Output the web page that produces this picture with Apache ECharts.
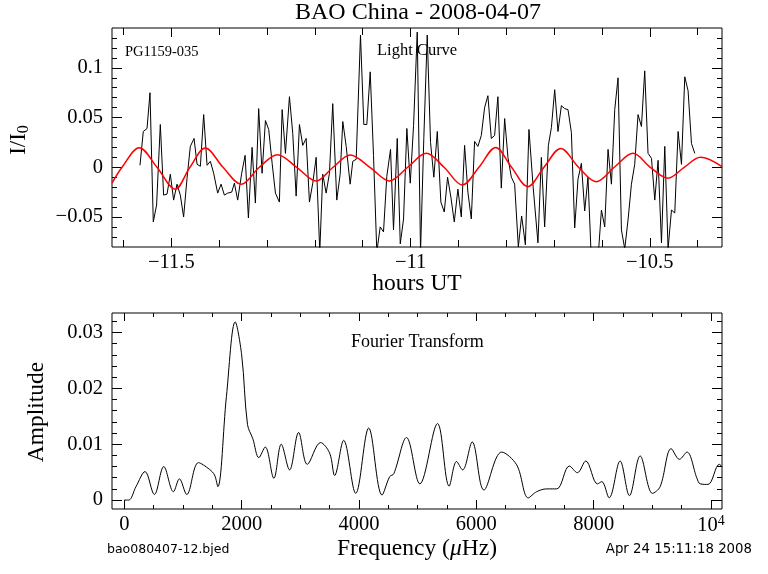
<!DOCTYPE html>
<html><head><meta charset="utf-8">
<script src="https://cdn.jsdelivr.net/npm/echarts@6/dist/echarts.min.js"></script>
<style>html,body{margin:0;padding:0;background:#fff}#c{width:768px;height:574px}</style>
</head><body><div id="c"></div>
<script>
// ---- Light curve (hours UT, I/I0) ----
const lcTime = [-11.5655,-11.5586,-11.5508,-11.5446,-11.5377,-11.5308,-11.5230,-11.5161,-11.5090,-11.5021,
-11.4952,-11.4881,-11.4812,-11.4743,-11.4672,-11.4603,-11.4525,-11.4462,-11.4393,-11.4324,
-11.4253,-11.4184,-11.4115,-11.4031,-11.3960,-11.3891,-11.3822,-11.3738,-11.3682,-11.3613,
-11.3529,-11.3458,-11.3389,-11.3312,-11.3243,-11.3174,-11.3103,-11.3033,-11.2964,-11.2893,
-11.2824,-11.2741,-11.2684,-11.2615,-11.2531,-11.2462,-11.2391,-11.2322,-11.2253,-11.2182,
-11.2113,-11.2044,-11.1973,-11.1897,-11.1835,-11.1764,-11.1695,-11.1626,-11.1542,-11.1471,
-11.1416,-11.1345,-11.1262,-11.1207,-11.1136,-11.1046,-11.0977,-11.0914,-11.0843,-11.0774,
-11.0705,-11.0634,-11.0565,-11.0496,-11.0418,-11.0356,-11.0278,-11.0215,-11.0146,-11.0077,
-11.0006,-10.9937,-10.9860,-10.9791,-10.9722,-10.9651,-10.9582,-10.9513,-10.9441,-10.9366,
-10.9295,-10.9226,-10.9157,-10.9086,-10.9010,-10.8939,-10.8870,-10.8801,-10.8730,-10.8661,
-10.8592,-10.8521,-10.8452,-10.8383,-10.8312,-10.8243,-10.8174,-10.8103,-10.8033,-10.7964,
-10.7893,-10.7824,-10.7747,-10.7678,-10.7600,-10.7525,-10.7437,-10.7337,-10.7266,-10.7197,
-10.7119,-10.7056,-10.6987,-10.6918,-10.6847,-10.6778,-10.6709,-10.6638,-10.6569,-10.6500,
-10.6429,-10.6360,-10.6291,-10.6220,-10.6151,-10.6082,-10.6010,-10.5941,-10.5872,-10.5801,
-10.5732,-10.5663,-10.5592,-10.5523,-10.5454,-10.5383,-10.5314,-10.5245,-10.5174,-10.5105,
-10.5036,-10.4964,-10.4895,-10.4826,-10.4755,-10.4686,-10.4617,-10.4546,-10.4477,-10.4408,
-10.4337,-10.4268,-10.4199,-10.4128,-10.4059];
const lcFlux = [0.002,0.036,0.039,0.075,-0.055,-0.038,0.043,-0.028,-0.027,-0.007,
-0.033,-0.017,-0.028,-0.050,-0.011,0.021,0.029,0.003,0.001,0.053,
0.002,0.006,-0.006,-0.026,-0.017,-0.028,-0.026,-0.025,-0.016,-0.033,
-0.006,0.012,-0.051,0.020,-0.036,0.059,-0.006,0.047,0.038,0.004,
-0.026,-0.035,0.058,0.014,0.071,0.034,-0.029,0.043,0.022,0.029,
-0.035,-0.016,0.010,-0.085,-0.007,-0.026,-0.006,0.064,-0.033,-0.007,
0.046,0.021,-0.017,0.006,0.008,0.133,0.043,0.043,0.096,0.012,
-0.085,-0.060,-0.065,-0.009,0.018,-0.063,0.029,-0.077,-0.052,0.039,
-0.016,0.042,0.136,-0.085,0.030,0.133,0.025,-0.010,0.036,-0.035,
-0.045,-0.010,-0.030,-0.055,-0.022,-0.050,0.022,-0.025,-0.052,0.026,
0.021,0.032,0.060,0.072,0.029,0.032,0.071,-0.021,0.049,0.010,
-0.010,-0.017,-0.080,-0.049,-0.078,0.038,-0.020,-0.076,0.010,-0.060,
0.022,0.040,0.078,0.036,0.062,0.059,0.058,0.035,-0.061,-0.012,
0.004,-0.044,-0.010,-0.095,-0.110,-0.092,-0.043,-0.060,0.018,-0.017,
0.058,0.090,-0.063,-0.082,-0.053,-0.017,0.003,0.053,0.041,0.097,
0.014,0.009,-0.033,0.007,-0.076,0.021,-0.082,-0.043,-0.046,0.036,
0.003,0.091,0.077,0.024,0.014];
// ---- Fitted model (red) ----
const fitTime = [-11.624,-11.603,-11.567,-11.530,-11.492,-11.461,-11.429,-11.392,-11.354,-11.316,
-11.278,-11.238,-11.197,-11.162,-11.126,-11.085,-11.044,-11.006,-10.967,-10.930,
-10.892,-10.857,-10.822,-10.789,-10.755,-10.721,-10.686,-10.649,-10.612,-10.574,
-10.535,-10.499,-10.462,-10.428,-10.394,-10.349];
const fitFlux = [-0.016,0,0.0197,0,-0.022,0,0.0194,0,-0.017,0,
0.0127,0,-0.0138,0,0.0124,0,-0.0138,0,0.014,0,
-0.0178,0,0.020,0,-0.0195,0,0.019,0,-0.0145,0,
0.014,0,-0.011,0,0.010,0.0006];
// ---- Fourier transform (microHz, amplitude) ----
const ftFreq = [0,75,199,353,512,672,837,939,1064,1264,1451,1537,1594,1740,1890,2000,2100,2190,
2293,2402,2549,2675,2817,2971,3119,3345,3500,3585,3739,3944,4166,4393,4524,4593,4810,5037,5339,5537,
5663,5766,5930,6129,6432,6688,6886,7029,7200,7371,7586,7723,7866,8064,8139,8264,8451,8610,8793,9003,
9134,9322,9463,9590,9761,9817,9949,10142,10188];
const ftAmp = [0,0,0.0024,0.0051,0.0010,0.0060,0.0015,0.0038,0.0010,0.0067,0.0055,0.0045,0.0024,0.0185,0.0319,0.0260,0.0135,0.0110,
0.0076,0.0095,0.0039,0.0100,0.0054,0.0121,0.0064,0.0103,0.0084,0.0044,0.0107,0.0012,0.0129,0.0009,0.0042,0.0047,0.0112,0.0029,0.0137,0.0025,
0.0069,0.0054,0.0104,0.0018,0.0086,0.0063,0.0004,0.0015,0.0020,0.0020,0.0061,0.0049,0.0070,0.0029,0.0033,0.0004,0.0070,0.0008,0.0079,0.0012,
0.0024,0.0092,0.0073,0.0086,0.0039,0.0029,0.0028,0.0064,0.0060];
// ---- Ticks ----
const lcXMajor = [-11.5,-11,-10.5];
const lcXMinor = [-11.6,-11.4,-11.3,-11.2,-11.1,-10.9,-10.8,-10.7,-10.6,-10.4];
const lcYMajor = [-0.05,0,0.05,0.1];
const lcYMinor = [-0.07,-0.06,-0.04,-0.03,-0.02,-0.01,0.01,0.02,0.03,0.04,0.06,0.07,0.08,0.09,0.11,0.12,0.13];
const ftXMajor = [0,2000,4000,6000,8000,10000];
const ftXMinor = [500,1000,1500,2500,3000,3500,4500,5000,5500,6500,7000,7500,8500,9000,9500];
const ftYMajor = [0,0.01,0.02,0.03];
const ftYMinor = [0.002,0.004,0.006,0.008,0.012,0.014,0.016,0.018,0.022,0.024,0.026,0.028,0.032];

const SERIF = 'Liberation Serif';
const SANS = 'DejaVu Sans';
const LCX = [-11.624, -10.349], LCY = [-0.0802, 0.1401];
const FTX = [-210, 10188], FTY = [-0.0016, 0.0335];
const neg = v => (v < 0 ? '\u2212' : '') + String(Math.abs(v));

function axis(grid, pos, range, ticks, len, label) {
  const a = {
    type: 'value', gridIndex: grid, position: pos, min: range[0], max: range[1],
    axisLine: {show: false, onZero: false}, splitLine: {show: false},
    axisTick: {show: true, inside: true, length: len, customValues: ticks, lineStyle: {color: '#000', width: 1}},
    axisLabel: {show: false}
  };
  if (label) a.axisLabel = Object.assign({show: true, customValues: ticks, color: '#000', fontFamily: SERIF, fontSize: 20.5}, label);
  return a;
}
function txt(x, y, text, size, align, extra) {
  return Object.assign({type: 'text', x: x, y: y, style: Object.assign({text: text, font: size + 'px "' + SERIF + '"', fill: '#000',
    textAlign: align, textVerticalAlign: 'middle'}, (extra && extra.style) || {})}, (extra && extra.el) || {});
}

const chart = echarts.init(document.getElementById('c'), null, {renderer: 'canvas'});
chart.setOption({
  animation: false,
  backgroundColor: '#fff',
  grid: [
    {left: 112, top: 28, width: 610, height: 219, show: true, borderColor: '#000', borderWidth: 1, backgroundColor: 'transparent'},
    {left: 112, top: 313, width: 610, height: 196, show: true, borderColor: '#000', borderWidth: 1, backgroundColor: 'transparent'}
  ],
  xAxis: [
    axis(0, 'bottom', LCX, lcXMajor, 9, {margin: 5, formatter: neg}),
    axis(0, 'top', LCX, lcXMajor, 9),
    axis(0, 'bottom', LCX, lcXMinor, 7),
    axis(0, 'top', LCX, lcXMinor, 7),
    axis(1, 'bottom', FTX, ftXMajor, 9, {margin: 5, formatter: v => v === 10000 ? '10{sup|4}' : String(v),
      rich: {sup: {fontFamily: SERIF, fontSize: 14, color: '#000', padding: [0, 0, 9, 0]}}}),
    axis(1, 'top', FTX, ftXMajor, 8),
    axis(1, 'bottom', FTX, ftXMinor, 4),
    axis(1, 'top', FTX, ftXMinor, 4)
  ],
  yAxis: [
    axis(0, 'left', LCY, lcYMajor, 10, {margin: 9, formatter: neg}),
    axis(0, 'right', LCY, lcYMajor, 10),
    axis(0, 'left', LCY, lcYMinor, 5),
    axis(0, 'right', LCY, lcYMinor, 5),
    axis(1, 'left', FTY, ftYMajor, 10, {margin: 9, formatter: neg}),
    axis(1, 'right', FTY, ftYMajor, 10),
    axis(1, 'left', FTY, ftYMinor, 5),
    axis(1, 'right', FTY, ftYMinor, 5)
  ],
  series: [
    {type: 'line', xAxisIndex: 0, yAxisIndex: 0, data: lcTime.map((t, i) => [t, lcFlux[i]]),
      showSymbol: false, lineStyle: {color: '#000', width: 1}, clip: true, silent: true},
    {type: 'line', xAxisIndex: 0, yAxisIndex: 0, data: fitTime.map((t, i) => [t, fitFlux[i]]),
      showSymbol: false, smooth: 0.35, lineStyle: {color: '#ff0000', width: 1.5}, clip: true, silent: true},
    {type: 'line', xAxisIndex: 4, yAxisIndex: 4, data: ftFreq.map((f, i) => [f, ftAmp[i]]),
      showSymbol: false, smooth: 0.35, lineStyle: {color: '#000', width: 1}, clip: true, silent: true}
  ],
  graphic: [
    txt(418, 13, 'BAO China - 2008-04-07', 24, 'center'),
    txt(417, 284, 'hours UT', 23.5, 'center'),
    txt(125, 52, 'PG1159-035', 14.5, 'left'),
    txt(377, 51, 'Light Curve', 16.5, 'left'),
    txt(351, 342, 'Fourier Transform', 18, 'left'),
    txt(417, 549, 'Frequency ({i|\u03bc}Hz)', 23.5, 'center',
      {style: {rich: {i: {fontFamily: SERIF, fontSize: 23.5, fontStyle: 'italic', fill: '#000'}}}}),
    {type: 'text', x: 107, y: 550, style: {text: 'bao080407-12.bjed', font: '12.5px "' + SANS + '"', fill: '#000', textAlign: 'left', textVerticalAlign: 'middle'}},
    {type: 'text', x: 752, y: 550, style: {text: 'Apr 24 15:11:18 2008', font: '13.3px "' + SANS + '"', fill: '#000', textAlign: 'right', textVerticalAlign: 'middle'}},
    txt(37, 412, 'Amplitude', 23.5, 'center', {el: {rotation: Math.PI / 2}}),
    txt(19, 140, 'I/I{s|0}', 23, 'center', {el: {rotation: Math.PI / 2},
      style: {rich: {s: {fontFamily: SERIF, fontSize: 16, fill: '#000', padding: [10, 0, 0, 0]}}}})
  ]
});
</script></body></html>
